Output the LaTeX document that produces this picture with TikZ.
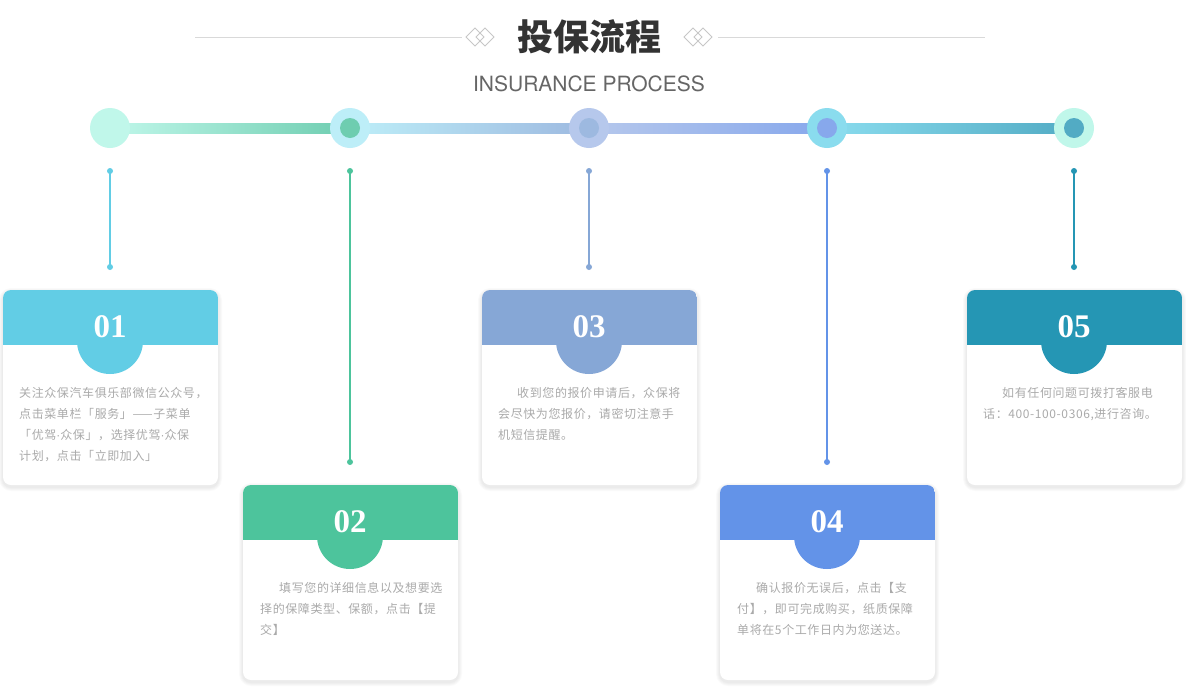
\documentclass[tikz,border=0pt]{standalone}
\usepackage{fontspec}
\setmainfont{TeX Gyre Heros}
\newfontfamily\cjk[LetterSpace=5]{Noto Sans CJK SC}
\newfontfamily\cjkhead{Noto Sans CJK SC}
\newfontfamily\numfont{Liberation Serif}
\newfontfamily\dotfont{Liberation Sans}
\newcommand{\middot}{{\dotfont ·}}
\usetikzlibrary{positioning}

\definecolor{c1}{HTML}{62CDE5}
\definecolor{c2}{HTML}{4DC49C}
\definecolor{c3}{HTML}{86A7D6}
\definecolor{c4}{HTML}{6393E8}
\definecolor{c5}{HTML}{2596B4}
\definecolor{mint}{HTML}{C0F7EA}
\definecolor{sky}{HTML}{BDEEF8}
\definecolor{lav}{HTML}{B6C8EC}
\definecolor{aqua}{HTML}{8ADCEE}
\definecolor{d2}{HTML}{6ECDB0}
\definecolor{d3}{HTML}{9DB9E0}
\definecolor{d4}{HTML}{87A8EC}
\definecolor{d5}{HTML}{52ABC4}
\definecolor{txtgray}{HTML}{AAAAAA}
\definecolor{rulegray}{HTML}{D9D9D9}

\begin{document}
\begin{tikzpicture}[
  x=1pt, y=-1pt,
  bigdot/.style={circle, minimum size=40pt, inner sep=0pt},
  smalldot/.style={circle, minimum size=20pt, inner sep=0pt},
  numtext/.style={font=\numfont\bfseries\fontsize{33}{33}\selectfont, text=white, inner sep=0pt},
  desc/.style={font=\cjk\fontsize{12}{21}\selectfont, text=txtgray, align=left, inner sep=0pt, anchor=north west},
  diamondline/.style={draw=rulegray!80!gray, line width=0.8pt}
]
  \useasboundingbox (0,0) rectangle (1186,686);
  \fill[white] (0,0) rectangle (1186,686);

  % heading
  \node[font=\cjkhead\bfseries\fontsize{36}{36}\selectfont, text=black!80] (title) at (589,37) {投保流程};
  \node[font=\fontsize{21}{21}\selectfont, text=black!60] (subtitle) at (589,84) {INSURANCE PROCESS};
  \draw[rulegray, line width=1pt] (195,37) -- (462,37) (718,37) -- (985,37);
  \foreach \dx in {475,485,693,703}
    \draw[diamondline] (\dx-9,37) -- (\dx,28) -- (\dx+9,37) -- (\dx,46) -- cycle;

  % timeline
  \coordinate (s1) at (110,128);
  \coordinate (s2) at (350,128);
  \coordinate (s3) at (589,128);
  \coordinate (s4) at (827,128);
  \coordinate (s5) at (1074,128);
  \shade[left color=mint, right color=d2] ([yshift=5pt]s1) rectangle ([yshift=-5pt]s2);
  \shade[left color=sky, right color=d3] ([yshift=5pt]s2) rectangle ([yshift=-5pt]s3);
  \shade[left color=lav, right color=d4] ([yshift=5pt]s3) rectangle ([yshift=-5pt]s4);
  \shade[left color=aqua, right color=d5] ([yshift=5pt]s4) rectangle ([yshift=-5pt]s5);
  \node[bigdot, fill=mint] (p1) at (s1) {};
  \node[bigdot, fill=sky] (p2) at (s2) {};
  \node[bigdot, fill=lav] (p3) at (s3) {};
  \node[bigdot, fill=aqua] (p4) at (s4) {};
  \node[bigdot, fill=mint] (p5) at (s5) {};
  \node[smalldot, fill=d2] (q2) at (s2) {};
  \node[smalldot, fill=d3] (q3) at (s3) {};
  \node[smalldot, fill=d4] (q4) at (s4) {};
  \node[smalldot, fill=d5] (q5) at (s5) {};

  % cards
  \foreach \cx/\top/\col/\num in {110/290/c1/01, 350/485/c2/02, 589/290/c3/03, 827/485/c4/04, 1074/290/c5/05} {
    \foreach \s in {1,...,4}
      \fill[black, opacity=0.018, rounded corners=8pt+\s pt] (\cx-107-\s,\top-\s+2) rectangle (\cx+108+\s,\top+195+\s+2);
    \fill[white, rounded corners=8pt] (\cx-107,\top) rectangle (\cx+108,\top+195);
    \begin{scope}
      \clip[rounded corners=8pt] (\cx-107,\top) rectangle (\cx+108,\top+195);
      \fill[\col] (\cx-107,\top) rectangle (\cx+108,\top+55);
    \end{scope}
    \fill[\col] (\cx,\top+51) circle[radius=33pt];
    \node[numtext] (n\num) at (\cx,\top+37) {\num};
    \coordinate (t\num) at (\cx,171);
    \coordinate (b\num) at (\cx,\top-23);
    \draw[\col, line width=2pt] (t\num) -- (b\num);
    \fill[\col] (t\num) circle[radius=3pt] (b\num) circle[radius=3pt];
  }

  \node[desc] (d01) at (19,387) {关注众保汽车俱乐部微信公众号，\\点击菜单栏「服务」——子菜单\\「优驾\middot 众保」，选择优驾\middot 众保\\计划，点击「立即加入」};
  \node[desc] (d02) at (260,582) {\hspace*{19pt}填写您的详细信息以及想要选\\择的保障类型、保额，点击【提\\交】};
  \node[desc] (d03) at (498,387) {\hspace*{19pt}收到您的报价申请后，众保将\\会尽快为您报价，请密切注意手\\机短信提醒。};
  \node[desc] (d04) at (737,582) {\hspace*{19pt}确认报价无误后，点击【支\\付】，即可完成购买，纸质保障\\单将在5个工作日内为您送达。};
  \node[desc] (d05) at (983,387) {\hspace*{19pt}如有任何问题可拨打客服电\\话：400-100-0306,进行咨询。};
\end{tikzpicture}
\end{document}
